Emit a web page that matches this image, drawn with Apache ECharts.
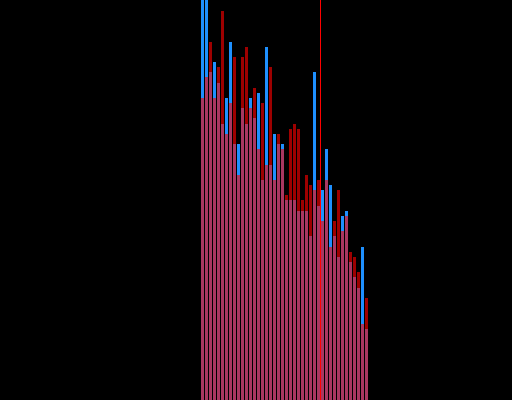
<!DOCTYPE html>
<html>
<head>
<meta charset="utf-8">
<script src="https://cdn.jsdelivr.net/npm/echarts@6/dist/echarts.min.js"></script>
<style>
html,body{margin:0;padding:0;background:#000;}
#chart{width:512px;height:400px;}
</style>
</head>
<body>
<div id="chart"></div>
<script>
// bin index of each bar
const bins = [0,1,2,3,4,5,6,7,8,9,10,11,12,13,14,15,16,17,18,19,20,21,22,23,24,25,26,27,28,29,30,31,32,33,34,35,36,37,38,39,40,41];
// blue series (drawn first)
const blueValues = [104,102,82,84.5,79.25,69,75.5,89.5,64,64,73,69,75.5,70.5,76.75,55,88.25,58.75,66.5,64,64,50,50,50,47.25,47.25,47.25,41,82,48.5,52.5,62.75,53.75,41,35.75,46,47.25,34.5,30.75,28,38.25,17.75];
// red series (semi-transparent, drawn on top)
const redValues = [75.5,80.75,89.5,75.5,83.25,97.25,66.5,74.25,85.75,56.25,85.75,88.25,73,78,62.75,74.25,58.75,83.25,55,66.5,62.75,51.25,67.75,69,67.75,50,56.25,53.75,52.5,55,44.75,55,38.25,44.75,52.5,42.25,46,37,35.75,32,19,25.5];
// vertical marker position
const markerX = 29.5;

const chart = echarts.init(document.getElementById('chart'), null, {renderer: 'canvas'});
chart.setOption({
  backgroundColor: '#000000',
  animation: false,
  grid: {left: 200.5, right: 143.5, top: 0, bottom: 0},
  xAxis: {type: 'value', min: -0.5, max: 41.5, show: false},
  yAxis: {type: 'value', min: 0, max: 100, show: false},
  series: [
    {
      type: 'bar',
      data: bins.map((b, i) => [b, blueValues[i]]),
      barWidth: 3,
      barGap: '-100%',
      itemStyle: {color: '#1e90ff'},
      silent: true
    },
    {
      type: 'bar',
      data: bins.map((b, i) => [b, redValues[i]]),
      barWidth: 3,
      barGap: '-100%',
      itemStyle: {color: 'rgba(255,0,0,0.62)'},
      silent: true,
      markLine: {
        silent: true,
        symbol: ['none', 'none'],
        label: {show: false},
        lineStyle: {color: '#ff0000', width: 1, type: 'solid', opacity: 1},
        data: [{xAxis: markerX}]
      }
    }
  ]
});
</script>
</body>
</html>
